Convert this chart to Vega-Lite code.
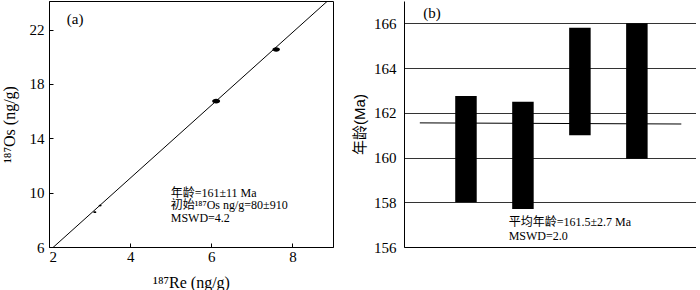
{
  "$schema": "https://vega.github.io/schema/vega-lite/v6.json",
  "background": "white",
  "padding": {"left": 0, "top": 0, "right": 0, "bottom": 0},
  "autosize": {"type": "pad"},
  "spacing": 18,
  "config": {
    "font": "Liberation Serif",
    "view": {"stroke": "black", "strokeWidth": 1},
    "axis": {
      "labelFont": "Liberation Serif",
      "labelFontSize": 15,
      "labelColor": "black",
      "titleFont": "Liberation Serif",
      "titleFontSize": 16,
      "titleFontWeight": "normal",
      "titleColor": "black",
      "domainColor": "black",
      "tickColor": "black",
      "grid": false
    }
  },
  "hconcat": [
    {
      "width": 284,
      "height": 246,
      "layer": [
        {
          "data": {"values": [{"re": 2.0, "os": 5.7}, {"re": 9.0, "os": 24.46}]},
          "mark": {"type": "line", "color": "black", "strokeWidth": 1, "clip": true},
          "encoding": {
            "x": {"field": "re", "type": "quantitative",
              "scale": {"domain": [2, 9], "nice": false, "zero": false},
              "axis": {"title": "¹⁸⁷Re (ng/g)", "values": [2, 4, 6, 8], "tickSize": -4, "labelPadding": 6, "titlePadding": 10}},
            "y": {"field": "os", "type": "quantitative",
              "scale": {"domain": [6, 24.1], "nice": false, "zero": false},
              "axis": {"title": "¹⁸⁷Os (ng/g)", "values": [6, 10, 14, 18, 22], "tickSize": -4, "labelPadding": 9, "titlePadding": 12}}
          }
        },
        {
          "data": {"values": [
            {"re": 3.13, "os": 8.56, "err": 0.03},
            {"re": 3.26, "os": 9.05, "err": 0.03},
            {"re": 6.12, "os": 16.74, "err": 0.1},
            {"re": 7.6, "os": 20.53, "err": 0.09}
          ]},
          "mark": {"type": "point", "filled": true, "color": "black", "opacity": 1,
            "shape": "M-1,0A1,0.6 0 1,1 1,0A1,0.6 0 1,1 -1,0Z"},
          "encoding": {
            "x": {"field": "re", "type": "quantitative"},
            "y": {"field": "os", "type": "quantitative"},
            "size": {"field": "err", "type": "quantitative", "legend": null,
              "scale": {"domain": [0.03, 0.1], "range": [9, 64], "zero": false}}
          }
        },
        {
          "data": {"values": [
            {"re": 2.44, "os": 22.8, "t": "(a)", "fs": "big"},
            {"re": 5.0, "os": 10.0, "t": "年龄=161±11 Ma", "fs": "small"},
            {"re": 5.0, "os": 9.08, "t": "初始¹⁸⁷Os ng/g=80±910", "fs": "small"},
            {"re": 5.0, "os": 8.16, "t": "MSWD=4.2", "fs": "small"}
          ]},
          "mark": {"type": "text", "align": "left", "baseline": "middle", "font": "'Liberation Serif', 'Noto Sans CJK SC'", "color": "black"},
          "encoding": {
            "x": {"field": "re", "type": "quantitative"},
            "y": {"field": "os", "type": "quantitative"},
            "text": {"field": "t"},
            "size": {"field": "fs", "type": "nominal", "legend": null,
              "scale": {"domain": ["big", "small"], "range": [15, 12]}}
          }
        }
      ]
    },
    {
      "width": 292,
      "height": 246,
      "view": {"stroke": null},
      "resolve": {"axis": {"y": "independent"}},
      "layer": [
        {
          "data": {"values": [
            {"i": 1, "lo": 158.0, "hi": 162.75},
            {"i": 2, "lo": 157.7, "hi": 162.5},
            {"i": 3, "lo": 161.0, "hi": 165.8},
            {"i": 4, "lo": 159.95, "hi": 166.0}
          ]},
          "mark": {"type": "bar", "color": "black", "size": 21.5},
          "encoding": {
            "x": {"field": "i", "type": "quantitative",
              "scale": {"domain": [0, 4.95], "nice": false, "zero": false},
              "axis": {"title": null, "labels": false, "ticks": false, "domain": true, "grid": false}},
            "y": {"field": "lo", "type": "quantitative",
              "scale": {"domain": [156, 167], "nice": false, "zero": false},
              "axis": {"orient": "left", "title": "年龄(Ma)", "titleFont": "'Liberation Sans', 'Noto Sans CJK SC'", "titleFontSize": 15,
                "values": [156, 158, 160, 162, 164, 166], "ticks": false, "grid": true, "gridColor": "#333333", "gridWidth": 1,
                "labelPadding": 8, "titlePadding": 6}},
            "y2": {"field": "hi"}
          }
        },
        {
          "data": {"values": [{"i": 0.19, "age": 161.55}, {"i": 4.78, "age": 161.5}]},
          "mark": {"type": "line", "color": "black", "strokeWidth": 1},
          "encoding": {
            "x": {"field": "i", "type": "quantitative"},
            "y": {"field": "age", "type": "quantitative",
              "axis": {"orient": "right", "title": null, "labels": false, "ticks": false, "grid": false, "domain": true}}
          }
        },
        {
          "data": {"values": [
            {"i": 0.25, "age": 166.45, "t": "(b)", "fs": "big"},
            {"i": 1.75, "age": 157.12, "t": "平均年龄=161.5±2.7 Ma", "fs": "small"},
            {"i": 1.75, "age": 156.5, "t": "MSWD=2.0", "fs": "small"}
          ]},
          "mark": {"type": "text", "align": "left", "baseline": "middle", "font": "'Liberation Serif', 'Noto Sans CJK SC'", "color": "black"},
          "encoding": {
            "x": {"field": "i", "type": "quantitative"},
            "y": {"field": "age", "type": "quantitative", "axis": null},
            "text": {"field": "t"},
            "size": {"field": "fs", "type": "nominal", "legend": null,
              "scale": {"domain": ["big", "small"], "range": [15, 12]}}
          }
        }
      ]
    }
  ]
}
